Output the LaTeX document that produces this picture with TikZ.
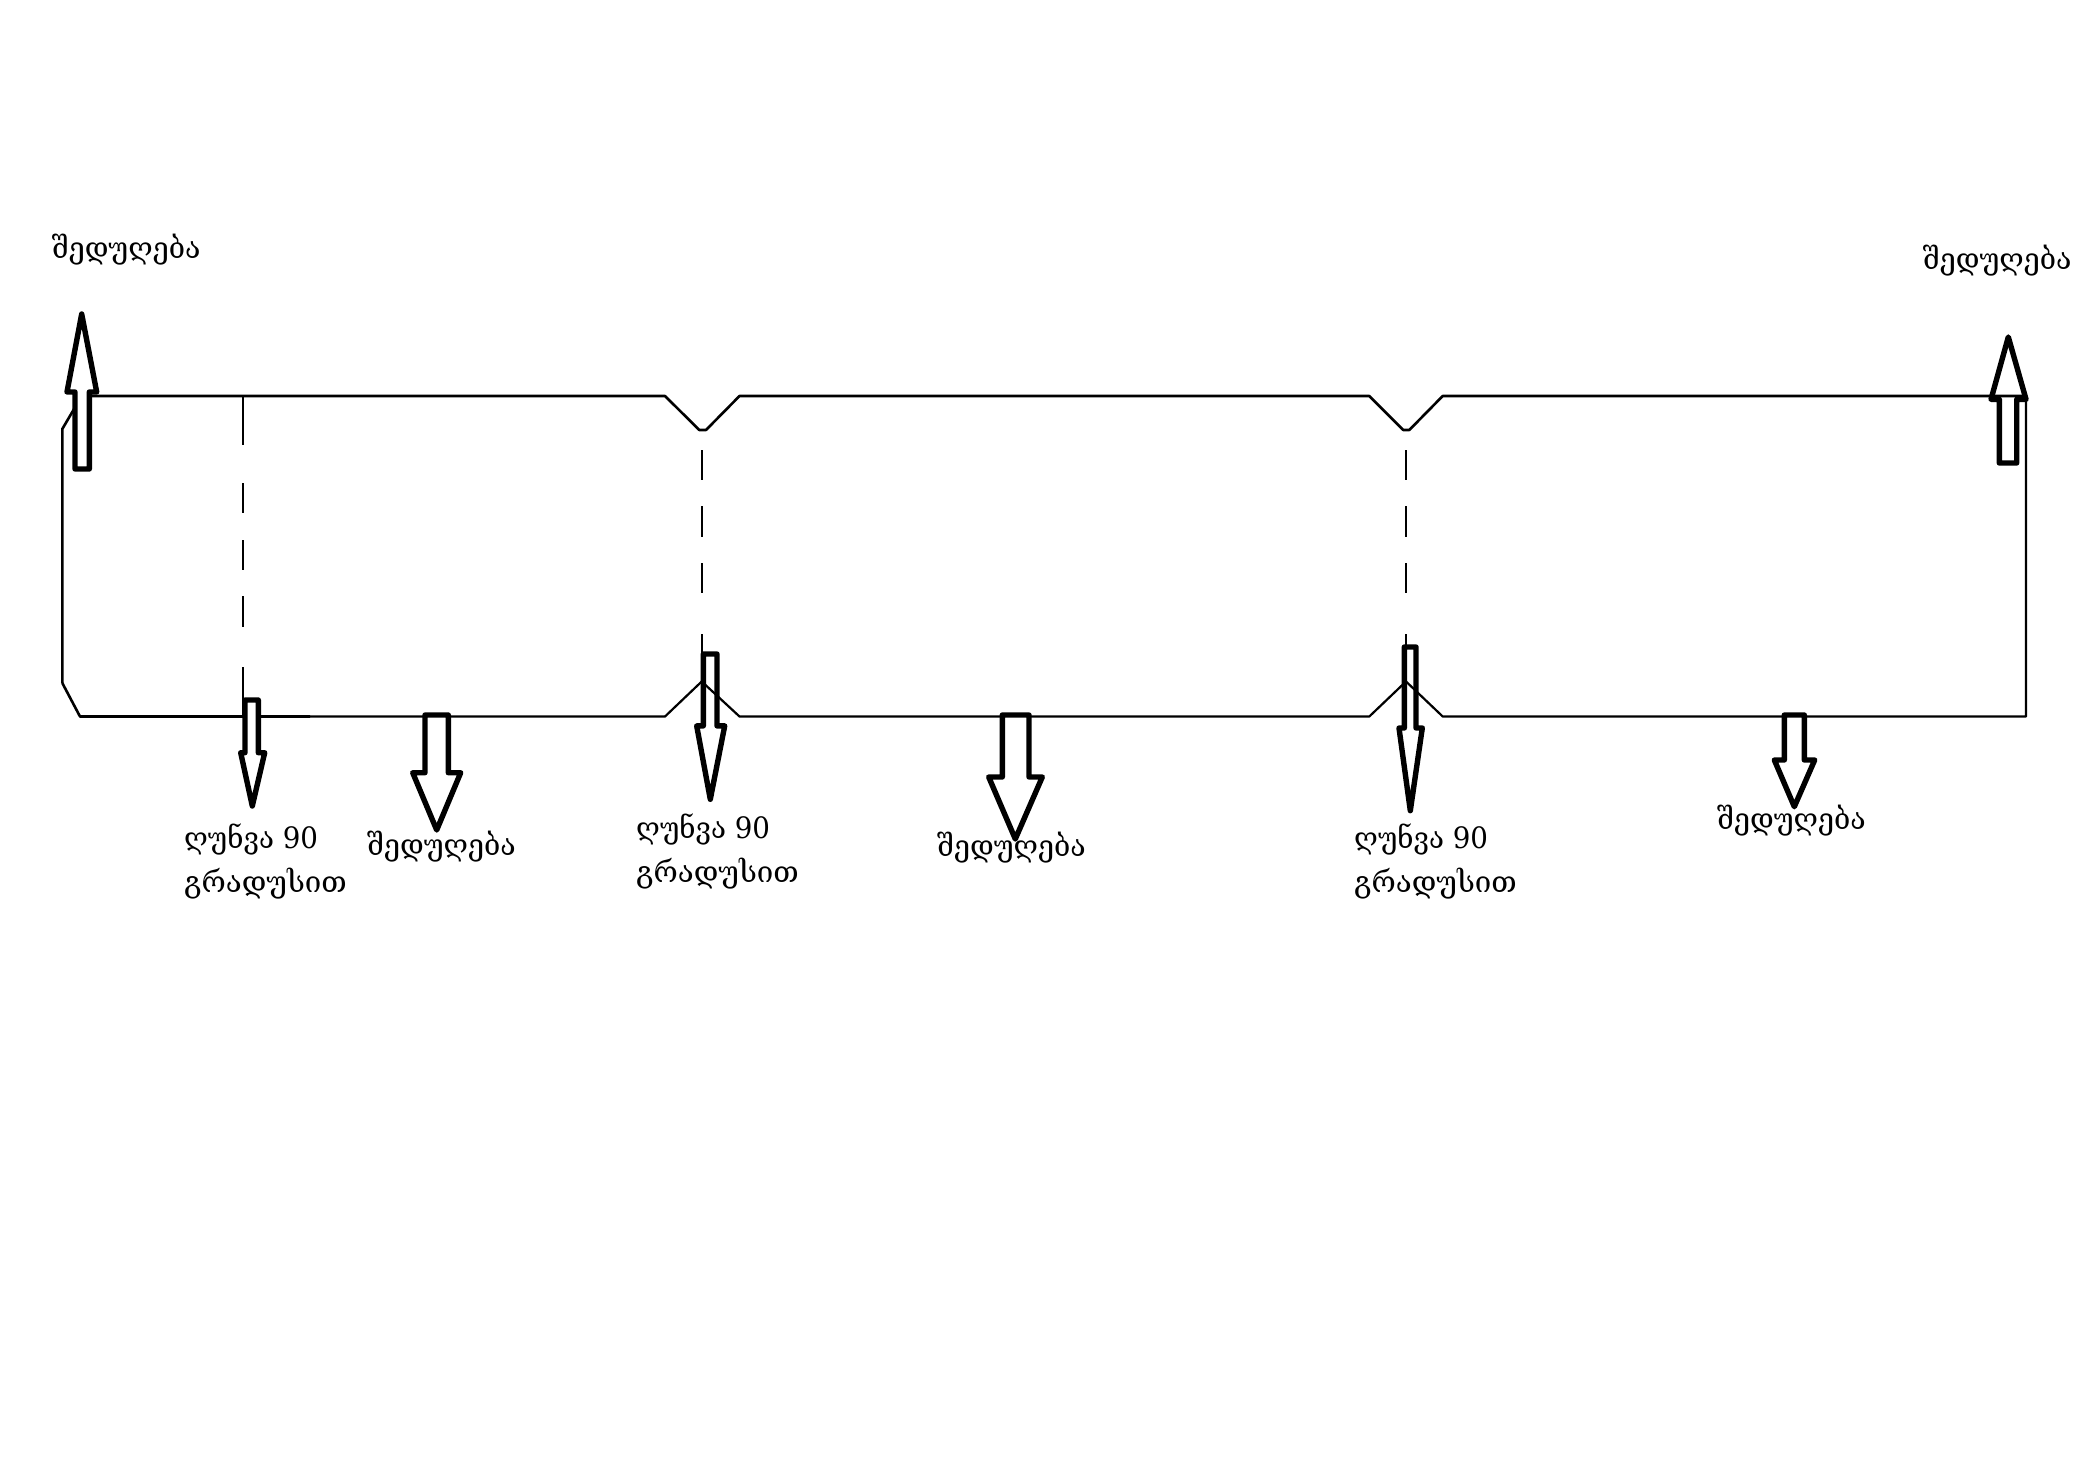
\documentclass[tikz,border=0pt]{standalone}
\usepackage{fontspec}
\setmainfont{DejaVu Serif}
\newfontfamily\geofont{DejaVu Serif}
\newfontfamily\geoword[FakeStretch=0.965]{DejaVu Serif}
\newfontfamily\geonum[FakeStretch=0.94]{DejaVu Serif}
\tikzset{
  outline/.style={draw=black,line width=2.6pt,line join=round},
  thinline/.style={draw=black,line width=2.2pt,line join=round},
  fold/.style={draw=black,line width=2pt},
  blockarrow/.style={draw=black,fill=white,line width=5.4pt,line join=round},
  label/.style={anchor=base west,inner sep=0pt,font=\geofont\fontsize{29.5}{29.5}\selectfont},
  wordlabel/.style={label,font=\geoword\fontsize{29.5}{29.5}\selectfont},
  numlabel/.style={label,font=\geonum\fontsize{29.5}{29.5}\selectfont}
}
\begin{document}
\begin{tikzpicture}[x=1pt,y=-1pt]
\useasboundingbox (0,0) rectangle (2085,1477);
% outline
\draw[outline] (62.3,683) -- (62.3,429) -- (81.7,396) -- (665,396) -- (699.3,430) -- (706,430) -- (739.5,396) -- (1369.3,396) -- (1403.3,430) -- (1409.3,430) -- (1442.7,396) -- (2026,396);
\draw[outline] (62.3,683) -- (80,716.5) -- (310,716.5);
\draw[thinline] (310,716.5) -- (665,716.5) -- (701.7,681.5) -- (739.5,716.5) -- (1369.3,716.5) -- (1406,681.5) -- (1442.7,716.5) -- (2026,716.5) -- (2026,396);
% fold lines
\foreach \fx/\fe in {701.7/681.5,1406/645}{
  \draw[fold] (\fx,450) -- (\fx,480);
  \draw[fold] (\fx,506) -- (\fx,537);
  \draw[fold] (\fx,563) -- (\fx,593);
  \draw[fold] (\fx,634) -- (\fx,\fe);
}
\draw[fold] (243,396) -- (243,445);
\draw[fold] (243,483) -- (243,513);
\draw[fold] (243,540) -- (243,570);
\draw[fold] (243,596) -- (243,627);
\draw[fold] (243,667) -- (243,716);
% block arrows
\draw[blockarrow] (75,469) -- (75,392) -- (67,392) -- (81.7,314) -- (96.7,392) -- (89.3,392) -- (89.3,469) -- cycle;
\draw[blockarrow,fill=none] (1999.3,463) -- (1999.3,399.3) -- (1991,399.3) -- (2008.3,337) -- (2026,399.3) -- (2016.7,399.3) -- (2016.7,463) -- cycle;
\draw[blockarrow] (245,700) -- (245,752.7) -- (240.7,752.7) -- (252.3,806) -- (264.7,752.7) -- (258.3,752.7) -- (258.3,700) -- cycle;
\draw[blockarrow] (425,715) -- (425,772.7) -- (412.7,772.7) -- (436.7,830) -- (460.7,772.7) -- (448.3,772.7) -- (448.3,715) -- cycle;
\draw[blockarrow,fill=none] (703.3,654) -- (703.3,725.9) -- (696.7,725.9) -- (710.3,799.3) -- (724.7,725.9) -- (717,725.9) -- (717,654) -- cycle;
\draw[blockarrow] (1002.3,715) -- (1002.3,777) -- (988.7,777) -- (1015.3,839) -- (1042.3,777) -- (1029,777) -- (1029,715) -- cycle;
\draw[blockarrow,fill=none] (1404.3,647) -- (1404.3,728) -- (1399,728) -- (1410.3,810.7) -- (1422.3,728) -- (1416,728) -- (1416,647) -- cycle;
\draw[blockarrow] (1784.3,715) -- (1784.3,760) -- (1774.3,760) -- (1794.3,806.7) -- (1814.7,760) -- (1804.3,760) -- (1804.3,715) -- cycle;
% labels
\node[wordlabel] (w1) at (51.7,258.5) {შედუღება};
\node[wordlabel] (w2) at (1922.7,269) {შედუღება};
\node[wordlabel] (w3) at (367,855) {შედუღება};
\node[wordlabel] (w4) at (937,856) {შედუღება};
\node[wordlabel] (w5) at (1717,829) {შედუღება};
\node[numlabel] (b1a) at (184,848) {ღუნვა 90};
\node[label] (b1b) at (184,892) {გრადუსით};
\node[numlabel] (b2a) at (636,838) {ღუნვა 90};
\node[label] (b2b) at (636,882) {გრადუსით};
\node[numlabel] (b3a) at (1354,848) {ღუნვა 90};
\node[label] (b3b) at (1354,892) {გრადუსით};
\end{tikzpicture}
\end{document}
